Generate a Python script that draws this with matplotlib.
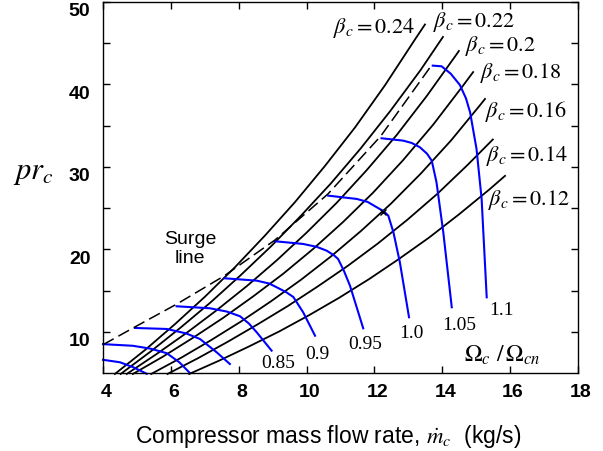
import matplotlib.pyplot as plt
import matplotlib.transforms as mtransforms

plt.rcParams['mathtext.fontset'] = 'stix'

# constant beta_c lines (mass flow kg/s, pressure ratio)
b24_x = [4.35, 5.24, 6.12, 7.01, 7.89, 8.77, 9.66, 10.54, 11.43, 12.31, 13.19, 13.49]
b24_y = [4.88, 7.79, 10.92, 14.27, 17.83, 21.65, 25.73, 30.10, 34.79, 39.89, 45.42, 47.27]
b22_x = [4.52, 5.40, 6.28, 7.17, 8.05, 8.94, 9.82, 10.71, 11.59, 12.47, 13.36, 14.02]
b22_y = [4.88, 7.59, 10.48, 13.56, 16.83, 20.31, 24.01, 27.96, 32.21, 36.79, 41.74, 45.76]
b20_x = [4.70, 5.58, 6.47, 7.35, 8.24, 9.12, 10.00, 10.89, 11.77, 12.66, 13.54, 14.43, 14.49]
b20_y = [4.88, 7.30, 9.88, 12.61, 15.54, 18.66, 22.02, 25.65, 29.59, 33.88, 38.58, 43.70, 44.06]
b18_x = [4.88, 5.77, 6.65, 7.54, 8.42, 9.31, 10.19, 11.07, 11.96, 12.84, 13.73, 14.61, 14.91]
b18_y = [4.88, 6.99, 9.26, 11.68, 14.27, 17.03, 20.03, 23.29, 26.87, 30.79, 35.11, 39.84, 41.50]
b16_x = [5.42, 6.30, 7.18, 8.07, 8.95, 9.84, 10.72, 11.60, 12.49, 13.37, 14.26, 15.14, 15.26]
b16_y = [4.88, 6.84, 8.97, 11.25, 13.69, 16.32, 19.14, 22.21, 25.55, 29.20, 33.21, 37.62, 38.24]
b14_x = [5.90, 6.79, 7.67, 8.55, 9.44, 10.32, 11.21, 12.09, 12.97, 13.86, 14.74, 15.49]
b14_y = [4.88, 6.77, 8.77, 10.88, 13.10, 15.47, 17.98, 20.67, 23.58, 26.75, 30.21, 33.32]
b12_x = [6.54, 7.42, 8.30, 9.19, 10.07, 10.96, 11.84, 12.72, 13.61, 14.49, 15.38, 15.85]
b12_y = [4.88, 6.49, 8.21, 10.03, 12.00, 14.12, 16.38, 18.82, 21.42, 24.23, 27.23, 28.91]

beta_names = ['0.24', '0.22', '0.2', '0.18', '0.16', '0.14', '0.12']
beta_lab_x = [10.78, 13.73, 14.67, 15.11, 15.26, 15.29, 15.35]
beta_lab_y = [46.97, 47.70, 44.79, 41.51, 36.78, 31.44, 26.11]

# constant speed lines
s1_x = [4.0, 4.50, 4.89, 5.29]
s1_y = [6.6, 6.3, 5.7, 4.9]
s2_x = [4.0, 4.88, 5.40, 5.88, 6.25, 6.56]
s2_y = [8.5, 8.3, 7.95, 7.4, 6.3, 5.0]
s3_x = [4.94, 5.88, 6.45, 6.86, 7.35, 7.74]
s3_y = [10.46, 10.34, 9.8, 9.12, 7.51, 6.09]
s085_x = [6.17, 7.15, 7.65, 8.04, 8.30, 8.53, 8.97]
s085_y = [13.09, 12.85, 12.45, 11.88, 11.0, 9.94, 7.71]
s090_x = [7.57, 8.53, 8.90, 9.16, 9.40, 9.61, 9.90, 10.25]
s090_y = [16.49, 16.20, 15.85, 15.31, 14.8, 14.22, 12.36, 9.52]
s095_x = [9.07, 9.90, 10.30, 10.59, 10.80, 10.93, 11.10, 11.28, 11.67]
s095_y = [20.98, 20.65, 20.3, 19.84, 19.3, 18.83, 17.4, 15.59, 10.42]
s100_x = [10.64, 11.48, 11.80, 12.07, 12.28, 12.41, 12.56, 12.75, 13.02]
s100_y = [26.51, 26.11, 25.75, 25.10, 24.6, 24.08, 22.07, 18.43, 11.76]
s105_x = [12.21, 12.85, 13.10, 13.34, 13.55, 13.69, 13.83, 14.03, 14.28]
s105_y = [33.47, 33.18, 32.9, 32.38, 31.6, 30.75, 28.13, 22.07, 12.97]
s110_x = [13.72, 13.98, 14.25, 14.52, 14.70, 14.82, 15.01, 15.16, 15.31]
s110_y = [42.28, 42.20, 41.3, 39.93, 38.3, 36.62, 32.17, 26.11, 14.18]

speed_names = ['0.85', '0.9', '0.95', '1.0', '1.05', '1.1']
speed_lab_x = [9.16, 10.32, 11.72, 13.10, 14.49, 15.75]
speed_lab_y = [6.27, 7.37, 8.58, 9.91, 10.88, 12.76]

# surge line
surge_x = [4.0, 4.94, 6.18, 7.57, 9.07, 10.63, 12.19, 13.67]
surge_y = [8.43, 10.58, 13.37, 16.77, 21.13, 26.71, 33.75, 42.24]

# design point marker
dp_x = [12.25]
dp_y = [24.5]


def main():
    fig = plt.figure(figsize=(6.03, 4.52), dpi=100)
    ax = fig.add_axes([0.1708, 0.1726, 0.7877, 0.8208])

    betas = [(b24_x, b24_y), (b22_x, b22_y), (b20_x, b20_y), (b18_x, b18_y),
             (b16_x, b16_y), (b14_x, b14_y), (b12_x, b12_y)]
    for bx, by in betas:
        ax.plot(bx, by, color='black', lw=1.3, clip_on=False)

    speeds = [(s1_x, s1_y), (s2_x, s2_y), (s3_x, s3_y), (s085_x, s085_y),
              (s090_x, s090_y), (s095_x, s095_y), (s100_x, s100_y),
              (s105_x, s105_y), (s110_x, s110_y)]
    for sx, sy in speeds:
        ax.plot(sx, sy, color='blue', lw=1.5, clip_on=False)

    ax.plot(surge_x, surge_y, color='black', lw=1.1, dashes=(8, 3.5))
    ax.plot(dp_x, dp_y, 'kx', ms=5, mew=1.0)

    for name, lx, ly in zip(beta_names, beta_lab_x, beta_lab_y):
        ax.text(lx, ly, r'$\beta_c = %s$' % name, fontsize=16,
                ha='left', va='center')
    for name, lx, ly in zip(speed_names, speed_lab_x, speed_lab_y):
        ax.text(lx, ly, name, fontsize=14, family='Liberation Serif',
                ha='center', va='center')
    ax.text(15.76, 7.3, r'$\Omega_c\ /\,\Omega_{cn}$', fontsize=17,
            ha='center', va='center')
    ax.text(6.56, 20.16, 'Surge\nline', fontsize=14, family='Liberation Sans',
            ha='center', va='center', linespacing=1.1)

    ax.set_xlim(4, 18)
    ax.set_ylim(5, 50)
    ax.set_xticks(range(4, 19, 2))
    ax.set_yticks([10, 20, 30, 40, 50])
    ax.set_yticks([15, 25, 35, 45], minor=True)
    ax.tick_params(which='both', direction='in', top=True, right=True,
                   length=5, width=1.0)
    ax.tick_params(axis='x', pad=7)
    ax.tick_params(axis='y', pad=9)
    for lab in ax.get_xticklabels() + ax.get_yticklabels():
        lab.set_family('Liberation Sans')
        lab.set_fontweight('bold')
        lab.set_fontsize(14)
    # labels in the original sit a little below / right of their ticks
    down = mtransforms.ScaledTranslation(0, -0.07, fig.dpi_scale_trans)
    right = mtransforms.ScaledTranslation(0.03, 0, fig.dpi_scale_trans)
    for lab in ax.get_yticklabels():
        lab.set_transform(lab.get_transform() + down)
    for lab in ax.get_xticklabels():
        lab.set_transform(lab.get_transform() + right)
    for sp in ax.spines.values():
        sp.set_linewidth(1.0)

    fig.text(0.055, 0.619, r'$pr_c$', fontsize=22, ha='center', va='center')
    fig.text(0.545, 0.035, r'Compressor mass flow rate, $\dot{m}_c$  (kg/s)',
             fontsize=16.5, family='Liberation Sans', ha='center', va='center')

    fig.savefig('out.png', dpi=100)


if __name__ == '__main__':
    main()
